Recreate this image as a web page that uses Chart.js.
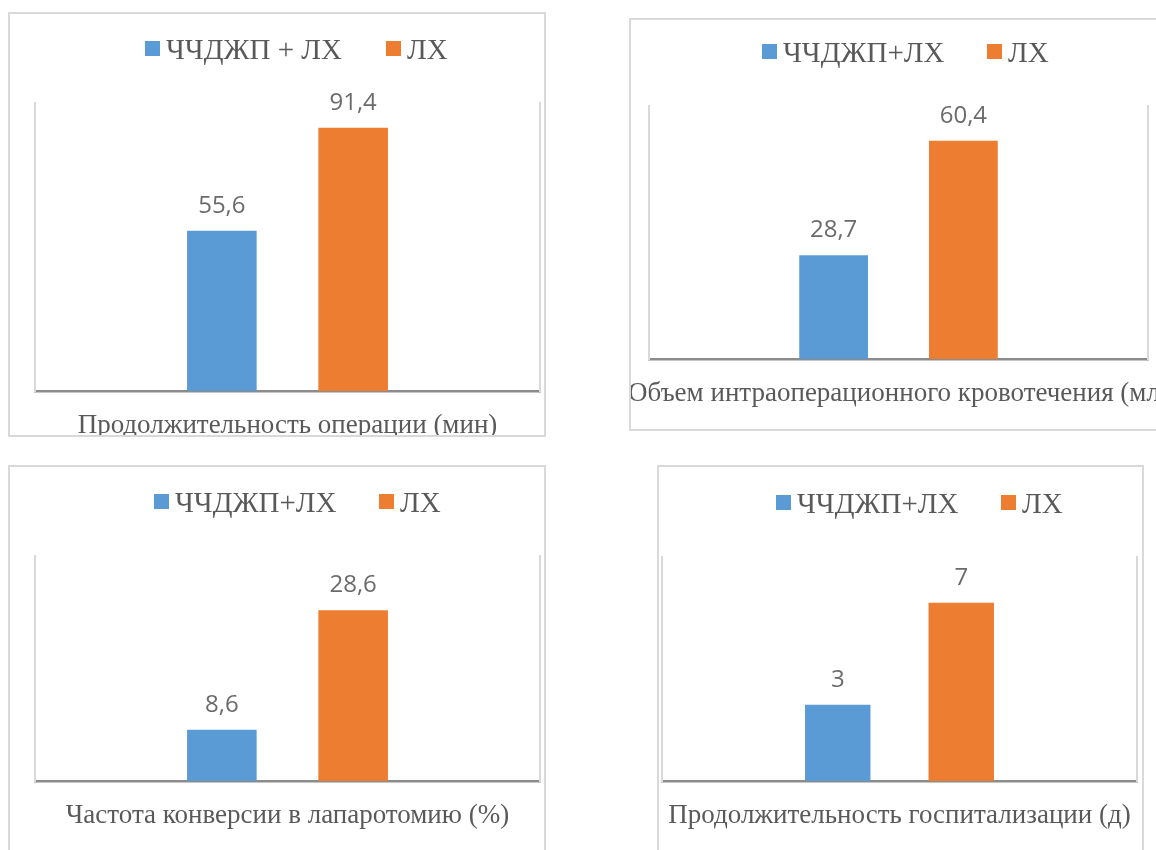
<!DOCTYPE html>
<html lang="ru">
<head>
<meta charset="utf-8">
<title>ЧЧДЖП + ЛХ и ЛХ</title>
<script src="https://cdn.jsdelivr.net/npm/chart.js@4/dist/chart.umd.min.js"></script>
<style>
  html, body { margin: 0; padding: 0; background: #ffffff; }
  body { width: 1156px; height: 850px; position: relative; overflow: hidden; }
  .panel { position: absolute; box-sizing: border-box; border: 2px solid #d9d9d9; background: #ffffff; overflow: hidden; }
  .panel canvas { position: absolute; left: 0; top: 0; }
</style>
</head>
<body>
<div class="panel" id="panel0"><canvas id="chart0"></canvas></div>
<div class="panel" id="panel1"><canvas id="chart1"></canvas></div>
<div class="panel" id="panel2"><canvas id="chart2"></canvas></div>
<div class="panel" id="panel3"><canvas id="chart3"></canvas></div>
<script>
// ---- data ----
const categories = [
  'Продолжительность операции (мин)',
  'Объем интраоперационного кровотечения (мл)',
  'Частота конверсии в лапаротомию (%)',
  'Продолжительность госпитализации (д)'
];
const combinedSeriesNames = ['ЧЧДЖП + ЛХ', 'ЧЧДЖП+ЛХ', 'ЧЧДЖП+ЛХ', 'ЧЧДЖП+ЛХ'];
const lhSeriesNames = ['ЛХ', 'ЛХ', 'ЛХ', 'ЛХ'];
const combinedValues = [55.6, 28.7, 8.6, 3];
const lhValues = [91.4, 60.4, 28.6, 7];
const axisMax = [100, 70, 37.7, 8.8];

// ---- layout (page coordinates) ----
const panelBoxes = [
  { left: 8,   top: 12,  width: 538, height: 425 },
  { left: 629, top: 18,  width: 540, height: 413 },
  { left: 8,   top: 465, width: 538, height: 400 },
  { left: 657, top: 465, width: 487, height: 400 }
];
const plotRects = [
  { l: 35,  r: 540,  t: 103, b: 391 },
  { l: 649, r: 1148, t: 106, b: 359 },
  { l: 35,  r: 540,  t: 556, b: 781 },
  { l: 662, r: 1137, t: 557, b: 781 }
];
const legendSwatchX = [[145, 386], [762, 987], [154, 379], [776, 1001]];

const BLUE = '#5b9bd5';
const ORANGE = '#ed7d31';
const TEXT_GREY = '#595959';
const LABEL_GREY = '#6b6b6b';
const SERIF = '"Liberation Serif", "Times New Roman", serif';
const SANS = '"Open Sans", "Liberation Sans", sans-serif';

const fmt = v => String(v).replace('.', ',');

// Legend row, value labels and category caption drawn on the chart canvas
const decorations = {
  id: 'decorations',
  afterDatasetsDraw(chart, args, opts) {
    const ctx = chart.ctx;
    const area = chart.chartArea;
    ctx.save();

    // value labels above bars
    ctx.font = '24px ' + SANS;
    ctx.fillStyle = LABEL_GREY;
    ctx.textAlign = 'center';
    ctx.textBaseline = 'alphabetic';
    chart.data.datasets.forEach((ds, di) => {
      const meta = chart.getDatasetMeta(di);
      meta.data.forEach((bar, i) => {
        ctx.fillText(fmt(ds.data[i]), bar.x, bar.y - 18);
      });
    });

    // category caption under the axis
    ctx.font = '27px ' + SERIF;
    ctx.fillStyle = TEXT_GREY;
    ctx.textAlign = 'center';
    ctx.fillText(chart.data.labels[0], (area.left + area.right) / 2, area.bottom + 42);

    // legend
    ctx.font = '29px ' + SERIF;
    ctx.textAlign = 'left';
    const baseY = area.top - 44;
    chart.data.datasets.forEach((ds, di) => {
      const x = opts.swatchX[di];
      ctx.fillStyle = ds.backgroundColor;
      ctx.fillRect(x, baseY - 18, 15, 15);
      ctx.fillStyle = TEXT_GREY;
      ctx.fillText(ds.label, x + 21, baseY);
    });
    ctx.restore();
  }
};

function buildChart(i) {
  const box = panelBoxes[i];
  const plot = plotRects[i];
  const panel = document.getElementById('panel' + i);
  Object.assign(panel.style, {
    left: box.left + 'px', top: box.top + 'px',
    width: box.width + 'px', height: box.height + 'px'
  });
  const ox = box.left + 2, oy = box.top + 2;
  const cw = box.width - 4, ch = box.height - 4;
  const canvas = document.getElementById('chart' + i);
  canvas.width = cw; canvas.height = ch;
  canvas.style.width = cw + 'px'; canvas.style.height = ch + 'px';

  const hiddenTicks = { display: false };
  const noGrid = { display: false, drawTicks: false };

  new Chart(canvas, {
    type: 'bar',
    data: {
      labels: [categories[i]],
      datasets: [
        { label: combinedSeriesNames[i], data: [combinedValues[i]], backgroundColor: BLUE },
        { label: lhSeriesNames[i], data: [lhValues[i]], backgroundColor: ORANGE }
      ]
    },
    options: {
      responsive: false,
      animation: false,
      devicePixelRatio: 1,
      categoryPercentage: 0.52,
      barPercentage: 0.53,
      layout: {
        padding: {
          left: plot.l - ox,
          top: plot.t - oy,
          right: cw - (plot.r - ox),
          bottom: ch - (plot.b - oy)
        }
      },
      plugins: {
        legend: { display: false },
        tooltip: { enabled: false },
        decorations: { swatchX: legendSwatchX[i].map(x => x - ox) }
      },
      scales: {
        x: {
          z: 1,
          grid: noGrid,
          ticks: hiddenTicks,
          border: { display: true, color: '#8c8c8c', width: 2.5 }
        },
        y: {
          min: 0, max: axisMax[i],
          grid: noGrid,
          ticks: hiddenTicks,
          border: { display: true, color: '#d9d9d9', width: 2 }
        },
        yRight: {
          position: 'right',
          min: 0, max: axisMax[i],
          grid: noGrid,
          ticks: hiddenTicks,
          border: { display: true, color: '#d9d9d9', width: 2 }
        }
      }
    },
    plugins: [decorations]
  });
}

for (let i = 0; i < categories.length; i++) buildChart(i);
</script>
</body>
</html>
